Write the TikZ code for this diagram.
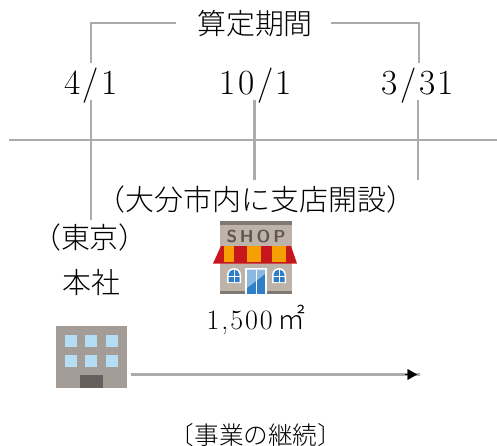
\documentclass[tikz,border=0pt]{standalone}
\usepackage{fontspec}
\usetikzlibrary{arrows.meta}
\newfontfamily\cjk{Noto Sans CJK JP Light}
\newfontfamily\numf[LetterSpace=7]{Latin Modern Roman}
\definecolor{rulegray}{HTML}{ABABAB}
\definecolor{bldg}{HTML}{A39C97}
\definecolor{win}{HTML}{B5DDF3}
\definecolor{doorg}{HTML}{65605E}
\definecolor{shopw}{HTML}{BDB3A8}
\definecolor{shopt}{HTML}{5F5650}
\definecolor{awnr}{HTML}{C8161D}
\definecolor{awno}{HTML}{F5A000}
\definecolor{blu}{HTML}{2F7FC8}
\tikzset{x=0.75pt,y=-0.75pt,
  rulel/.style={draw=rulegray,line width=1.9pt},
  num/.style={inner sep=0,font=\numf\fontsize{26.5}{26.5}\selectfont},
  jp/.style={inner sep=0,font=\cjk\fontsize{21.7}{22}\selectfont},
  small/.style={inner sep=0,font=\cjk\fontsize{18.5}{19}\selectfont},
}
\begin{document}
\begin{tikzpicture}
\useasboundingbox (0,0) rectangle (497,446);
\node[jp] (title) at (255,24) {算定期間};
\node[num] (d1) at (91,86) {4/1};
\node[num] (d2) at (256,86) {10/1};
\node[num] (d3) at (418,86) {3/31};
\coordinate (tl) at (176,23);
\coordinate (tr) at (331,23);
\coordinate (cl) at (91,23);
\coordinate (cr) at (419,23);
\coordinate (bl) at (91,63);
\coordinate (br) at (419,63);
\draw[rulel] (tl) -- (cl) -- (bl);
\draw[rulel] (tr) -- (cr) -- (br);
\coordinate (a) at (9,140);
\coordinate (b) at (497,140);
\draw[rulel] (a) -- (b);
\coordinate (v1t) at (91,100);
\coordinate (v1b) at (91,220);
\coordinate (v2t) at (254.5,100);
\coordinate (v2b) at (254.5,180);
\coordinate (v3t) at (418,100);
\coordinate (v3b) at (418,180);
\draw[rulel] (v1t) -- (v1b);
\draw[rulel] (v2t) -- (v2b);
\draw[rulel] (v3t) -- (v3b);
\node[jp] (branch) at (256,200) {（大分市内に支店開設）};
\node[jp] (tokyo) at (90,238) {（東京）};
\node[jp] (honsha) at (91,282) {本社};
\node[inner sep=0,font=\numf\fontsize{21}{21}\selectfont] (area) at (256,320) {1,500\,{\cjk ㎡}};
\node[small] (cont) at (256,435) {〔事業の継続〕};
% office building
\fill[bldg] (56,326) rectangle (127,388);
\foreach \x in {65,85,106} \foreach \y in {335,355}
  \fill[win] (\x,\y) rectangle ++(12,12);
\fill[doorg] (80,375) rectangle (103,388);
% shop
\fill[shopw] (220,221) rectangle (292,294);
\fill[shopt!80!white] (220,221) rectangle (292,225);
\fill[shopt!80!white] (220,291) rectangle (292,294);
\node[inner sep=0,text=shopt,font=\sffamily\bfseries\fontsize{13}{13}\selectfont] (shopname) at (256,236) {S\,H\,O\,P};
\fill[awnr] (213,263.5) -- (221,246) -- (291,246) -- (297,263.5) -- cycle;
\fill[awno] (224,246) rectangle (234,262);
\fill[awno] (247,246) rectangle (261,262);
\fill[awno] (272,246) rectangle (286,262);
\foreach \x in {227,272}{
  \fill[white] (\x,283) -- (\x,275) arc[start angle=180,end angle=0,radius=5.25pt] -- (\x+14,283) -- cycle;
  \fill[blu] (\x+1.5,282) -- (\x+1.5,275) arc[start angle=180,end angle=0,radius=4.125pt] -- (\x+12.5,282) -- cycle;
  \draw[white,line width=0.6pt] (\x+7,268) -- (\x+7,283) (\x,276.5) -- (\x+14,276.5);
}
\fill[white] (245,267.5) rectangle (267,294);
\fill[blu] (247,269.5) rectangle (265,294);
\fill[blu!55!white] (247,269.5) -- (265,269.5) -- (265,274) -- (247,288) -- cycle;
\draw[white,line width=0.5pt] (256,269.5) -- (256,294);
% arrow
\coordinate (arrA) at (131,374.5);
\coordinate (arrB) at (420,374.5);
\coordinate (arrC) at (417,374.5);
\coordinate (arrD) at (405,374.5);
\draw[draw=rulegray,line width=1.9pt] (arrA) -- (arrB);
\draw[black,line width=0.1pt,-{Triangle[length=7pt,width=8pt]}] (arrD) -- (arrC);
\end{tikzpicture}
\end{document}
